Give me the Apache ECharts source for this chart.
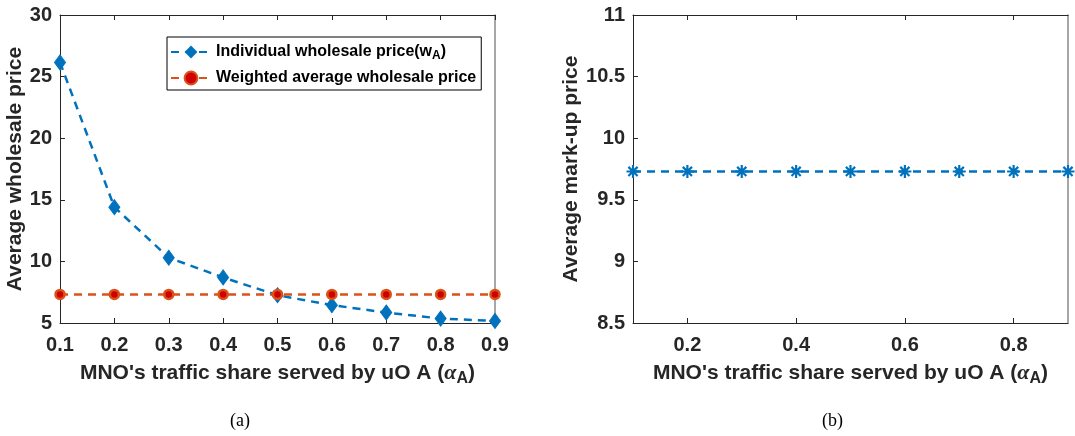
<!DOCTYPE html>
<html><head><meta charset="utf-8">
<script src="https://cdn.jsdelivr.net/npm/echarts@6/dist/echarts.min.js"></script>
<style>html,body{margin:0;padding:0;background:#fff}#c{width:1075px;height:436px}</style>
</head><body><div id="c"></div>
<script>
var alphaA = [0.1, 0.2, 0.3, 0.4, 0.5, 0.6, 0.7, 0.8, 0.9];
var individualPrice = [26.15, 14.4, 10.3, 8.7, 7.25, 6.45, 5.85, 5.36, 5.17];
var weightedPrice = [7.32, 7.32, 7.32, 7.32, 7.32, 7.32, 7.32, 7.32, 7.32];
var markupPrice = [9.73, 9.73, 9.73, 9.73, 9.73, 9.73, 9.73, 9.73, 9.73];
var rightXTicks = [0.2, 0.4, 0.6, 0.8];

function pairs(xs, ys){ return xs.map(function(x,i){return [x, ys[i]];}); }

var BLUE = '#0072BD', ORANGE = '#D95319', AX = '#262626';
var FONT = 'Liberation Sans';
var asterisk = 'path://M-1,-6L1,-6L1,6L-1,6Z M-6,-1L6,-1L6,1L-6,1Z M-3.54,-4.95L4.95,3.54L3.54,4.95L-4.95,-3.54Z M-4.95,3.54L3.54,-4.95L4.95,-3.54L-3.54,4.95Z';

var labelStyle = {color: AX, fontFamily: FONT, fontWeight: 'bold', fontSize: 20};
var nameRich = {
  a: {fontFamily: 'Liberation Serif', fontStyle: 'italic', fontSize: 22, color: AX},
  s: {fontFamily: FONT, fontWeight: 'bold', fontSize: 16, color: AX, verticalAlign: 'bottom', padding: [12,0,0,0]}
};
function fmt1(v){ return v.toFixed(1); }
function xAxisBase(idx){
  return {
    type: 'value', gridIndex: idx, min: 0.1, max: 0.9, position: 'bottom',
    name: "MNO's traffic share served by uO A ({a|α}{s|A})",
    nameLocation: 'middle', nameGap: 36,
    nameTextStyle: {color: AX, fontFamily: FONT, fontWeight: 'bold', fontSize: 21, rich: nameRich},
    axisLine: {lineStyle: {color: AX, width: 1}},
    axisTick: {inside: true, length: 5, lineStyle: {color: AX}},
    axisLabel: Object.assign({margin: 12, formatter: fmt1}, labelStyle),
    splitLine: {show: false}
  };
}
function xAxisTop(idx){
  return {
    type: 'value', gridIndex: idx, min: 0.1, max: 0.9, position: 'top',
    axisLine: {show: true, onZero: false, lineStyle: {color: AX, width: 1}},
    axisTick: {show: true, inside: true, length: 5, lineStyle: {color: AX}},
    axisLabel: {show: false}, splitLine: {show: false}
  };
}
var xa0 = xAxisBase(0); xa0.interval = 0.1;
var xa1 = xAxisBase(1);
xa1.axisTick.customValues = rightXTicks;
xa1.axisLabel.customValues = rightXTicks;
var xt0 = xAxisTop(0); xt0.interval = 0.1;
var xt1 = xAxisTop(1); xt1.axisTick.customValues = rightXTicks;

function yAxisBase(idx, name, min, max, interval, gap){
  return {
    type: 'value', gridIndex: idx, min: min, max: max, interval: interval, position: 'left',
    name: name, nameLocation: 'middle', nameGap: gap,
    nameTextStyle: {color: AX, fontFamily: FONT, fontWeight: 'bold', fontSize: 21},
    axisLine: {show: true, onZero: false, lineStyle: {color: AX, width: 1}},
    axisTick: {show: true, inside: true, length: 5, lineStyle: {color: AX}},
    axisLabel: Object.assign({margin: 8}, labelStyle),
    splitLine: {show: false}
  };
}
function yAxisRight(idx, min, max, interval){
  return {
    type: 'value', gridIndex: idx, min: min, max: max, interval: interval, position: 'right',
    axisLine: {show: true, onZero: false, lineStyle: {color: '#8a8a8a', width: 1.5}},
    axisTick: {show: false},
    axisLabel: {show: false}, splitLine: {show: false}
  };
}

var option = {
  animation: false,
  backgroundColor: '#fff',
  grid: [
    {left: 60, right: 580, top: 15, bottom: 113},
    {left: 633, right: 7, top: 15, bottom: 113}
  ],
  xAxis: [xa0, xa1, xt0, xt1],
  yAxis: [
    yAxisBase(0, 'Average wholesale price', 5, 30, 5, 33),
    yAxisBase(1, 'Average mark-up price', 8.5, 11, 0.5, 45),
    yAxisRight(0, 5, 30, 5),
    yAxisRight(1, 8.5, 11, 0.5)
  ],
  legend: {
    left: 167, top: 37, orient: 'vertical',
    backgroundColor: '#fff', borderColor: '#000', borderWidth: 1,
    padding: [7, 5, 4, 3], itemGap: 8, itemWidth: 40, itemHeight: 16,
    textStyle: {color: '#000', fontFamily: FONT, fontWeight: 'bold', fontSize: 16,
      rich: {s: {fontFamily: FONT, fontWeight: 'bold', fontSize: 12, color: '#000', verticalAlign: 'bottom', padding: [8,0,0,0]},
             n: {fontFamily: FONT, fontWeight: 'bold', fontSize: 16, color: '#000'}}},
    formatter: function(name){
      if (name.indexOf('Individual') === 0) return '{n|Individual wholesale price(w}{s|A}{n|)}';
      return '{n|' + name + '}';
    },
    data: ['Individual wholesale price(wA)', 'Weighted average wholesale price']
  },
  series: [
    {
      name: 'Individual wholesale price(wA)', type: 'line', xAxisIndex: 0, yAxisIndex: 0,
      data: pairs(alphaA, individualPrice),
      symbol: 'diamond', symbolSize: [11, 15],
      lineStyle: {color: BLUE, width: 2.5, type: [8, 6]},
      itemStyle: {color: BLUE, borderColor: BLUE}
    },
    {
      name: 'Weighted average wholesale price', type: 'line', xAxisIndex: 0, yAxisIndex: 0,
      data: pairs(alphaA, weightedPrice),
      symbol: 'circle', symbolSize: 9,
      lineStyle: {color: ORANGE, width: 2.5, type: [8, 6]},
      itemStyle: {color: '#D00000', borderColor: ORANGE, borderWidth: 2.5}
    },
    {
      name: 'Mark-up', type: 'line', xAxisIndex: 1, yAxisIndex: 1,
      data: pairs(alphaA, markupPrice),
      symbol: asterisk, symbolSize: 13,
      lineStyle: {color: BLUE, width: 2.5, type: [8, 6]},
      itemStyle: {color: BLUE}
    }
  ],
  graphic: [
    {type: 'text', left: 230, top: 412, style: {text: '(a)', font: '18px "Liberation Serif"', fill: '#000'}},
    {type: 'text', left: 822, top: 412, style: {text: '(b)', font: '18px "Liberation Serif"', fill: '#000'}}
  ]
};
var chart = echarts.init(document.getElementById('c'));
chart.setOption(option);
</script></body></html>
